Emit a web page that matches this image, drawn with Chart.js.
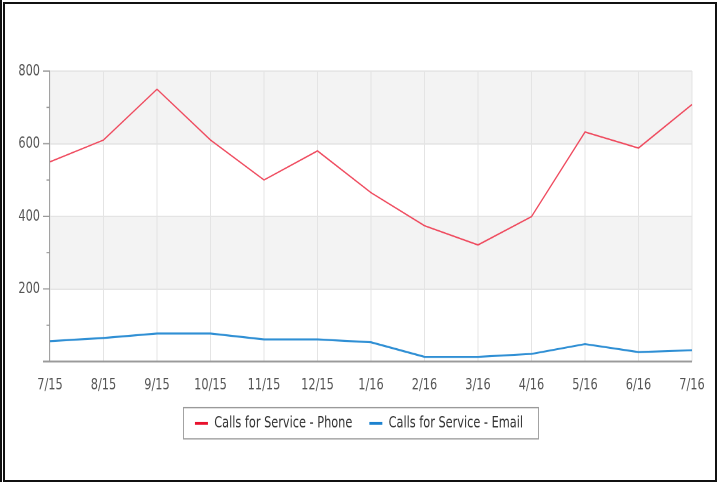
<!DOCTYPE html>
<html>
<head>
<meta charset="utf-8">
<script src="https://cdn.jsdelivr.net/npm/chart.js@4/dist/chart.umd.min.js"></script>
<style>
  html, body { margin: 0; padding: 0; background: #fff; }
  #page { position: relative; width: 727px; height: 482px; overflow: hidden; }
  /* the chart is laid out on a 380px-tall canvas and stretched to the full 482px height */
  #stage { position: absolute; left: 0; top: 0; width: 727px; height: 380px;
           transform: scaleY(1.26842); transform-origin: 0 0; }
  #chart { display: block; width: 727px; height: 380px; }
  #frame { position: absolute; left: 3px; top: 2px; width: 710px; height: 476px; border: 2px solid #111; pointer-events: none; }
  #edge { position: absolute; left: 0; top: 0; width: 2px; height: 482px; background: #111; pointer-events: none; }
</style>
</head>
<body>
<div id="page">
  <div id="stage"><canvas id="chart" width="727" height="380"></canvas></div>
  <div id="edge"></div>
  <div id="frame"></div>
</div>
<script>
// Monthly calls for service, July 2015 – July 2016
const months = ['7/15', '8/15', '9/15', '10/15', '11/15', '12/15', '1/16', '2/16', '3/16', '4/16', '5/16', '6/16', '7/16'];
const phoneCalls = [550, 610, 750, 610, 500, 580, 465, 374, 321, 399, 632, 588, 708];
const emailCalls = [56, 65, 77, 77, 61, 61, 53, 13, 13, 21, 48, 26, 31];
const seriesNames = ['Calls for Service - Phone', 'Calls for Service - Email'];
const yTicks = [200, 400, 600, 800];
const shadedBands = [[200, 400], [600, 800]];

const FONT = "'DejaVu Sans Condensed', 'DejaVu Sans', sans-serif";
const FONT_SIZE = 12.6;
const TEXT = '#555555';
const GRID = '#e4e4e4';
const AXIS = '#9a9a9a';

// Light grey bands behind alternate major y intervals
const bandsPlugin = {
  id: 'bands',
  beforeDraw(chart) {
    const { ctx, chartArea, scales: { y } } = chart;
    ctx.save();
    ctx.fillStyle = '#f3f3f3';
    shadedBands.forEach(([a, b]) => {
      const top = y.getPixelForValue(b);
      const bottom = y.getPixelForValue(a);
      ctx.fillRect(chartArea.left, top, chartArea.right - chartArea.left, bottom - top);
    });
    ctx.restore();
  }
};

// Axis lines with long major ticks and short minor ticks
const axisPlugin = {
  id: 'axisTicks',
  afterDatasetsDraw(chart) {
    const { ctx, chartArea, scales: { y } } = chart;
    ctx.save();
    ctx.strokeStyle = AXIS;
    ctx.lineWidth = 0.9;
    ctx.beginPath();
    ctx.moveTo(chartArea.left - 0.5, chartArea.top);
    ctx.lineTo(chartArea.left - 0.5, chartArea.bottom);
    for (let v = 100; v <= y.max; v += 100) {
      const py = y.getPixelForValue(v);
      const len = v % 200 === 0 ? 7 : 3.5;
      ctx.moveTo(chartArea.left - len, py);
      ctx.lineTo(chartArea.left, py);
    }
    ctx.stroke();
    ctx.lineWidth = 1.5;
    ctx.beginPath();
    const by = y.getPixelForValue(0);
    ctx.moveTo(chartArea.left - 7, by);
    ctx.lineTo(chartArea.right, by);
    ctx.stroke();
    ctx.restore();
  }
};

// Thin grey border around the legend items
const legendBoxPlugin = {
  id: 'legendBox',
  afterDraw(chart) {
    const boxes = chart.legend && chart.legend.legendHitBoxes;
    if (!boxes || !boxes.length) return;
    const left = Math.min(...boxes.map(b => b.left)) - 12;
    const right = Math.max(...boxes.map(b => b.left + b.width)) + 15;
    const top = Math.min(...boxes.map(b => b.top)) - 6;
    const bottom = Math.max(...boxes.map(b => b.top + b.height)) + 6;
    const ctx = chart.ctx;
    ctx.save();
    ctx.strokeStyle = '#9a9a9a';
    ctx.lineWidth = 0.9;
    ctx.strokeRect(Math.round(left) + 0.5, top, Math.round(right - left), bottom - top);
    ctx.restore();
  }
};

new Chart(document.getElementById('chart'), {
  type: 'line',
  data: {
    labels: months,
    datasets: [
      {
        label: seriesNames[0],
        data: phoneCalls,
        borderColor: '#ef4a5e',
        backgroundColor: '#e8112d',
        borderWidth: 1.2,
        pointRadius: 0,
        tension: 0,
        fill: false
      },
      {
        label: seriesNames[1],
        data: emailCalls,
        borderColor: '#2f8fd4',
        backgroundColor: '#1c82cf',
        borderWidth: 1.6,
        pointRadius: 0,
        tension: 0,
        fill: false
      }
    ]
  },
  options: {
    responsive: false,
    animation: false,
    devicePixelRatio: 2,
    events: [],
    layout: { padding: { left: 0, right: 9, top: 56, bottom: 30 } },
    scales: {
      x: {
        offset: false,
        grid: { color: GRID, lineWidth: 1, drawTicks: false },
        border: { display: false },
        ticks: {
          color: TEXT,
          font: { family: FONT, size: FONT_SIZE },
          padding: 11,
          maxRotation: 0,
          autoSkip: false
        },
        afterFit(scale) {
          scale.height = 25.4;
          scale.paddingRight = 35;
          scale.paddingLeft = 0;
        }
      },
      y: {
        min: 0,
        max: 800,
        ticks: {
          stepSize: 100,
          color: TEXT,
          font: { family: FONT, size: FONT_SIZE },
          padding: 10,
          callback: (v) => (yTicks.includes(v) ? String(v) : '')
        },
        grid: {
          drawTicks: false,
          lineWidth: 0.9,
          color: (c) => (c.tick && yTicks.includes(c.tick.value) ? GRID : 'rgba(0,0,0,0)')
        },
        border: { display: false },
        afterFit(scale) {
          scale.width = 50;
        }
      }
    },
    plugins: {
      legend: {
        position: 'bottom',
        labels: {
          color: '#333333',
          font: { family: FONT, size: FONT_SIZE },
          boxWidth: 13,
          boxHeight: 2.4,
          padding: 17,
          generateLabels(chart) {
            return chart.data.datasets.map((ds, i) => ({
              text: ds.label,
              fillStyle: ds.backgroundColor,
              strokeStyle: ds.backgroundColor,
              lineWidth: 0,
              fontColor: '#333333',
              hidden: false,
              datasetIndex: i
            }));
          }
        }
      },
      tooltip: { enabled: false }
    }
  },
  plugins: [bandsPlugin, axisPlugin, legendBoxPlugin]
});
</script>
</body>
</html>
